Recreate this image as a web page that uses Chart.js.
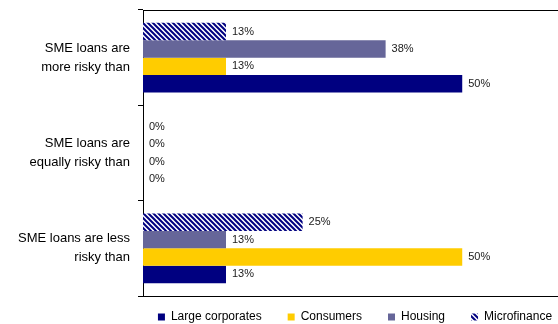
<!DOCTYPE html>
<html>
<head>
<meta charset="utf-8">
<script src="https://cdn.jsdelivr.net/npm/chart.js@4/dist/chart.umd.min.js"></script>
<style>
  html, body { margin: 0; padding: 0; background: #fff; }
  #wrap { width: 558px; height: 324px; }
</style>
</head>
<body>
<div id="wrap"><canvas id="c" width="558" height="324"></canvas></div>
<script>
// Survey answers: how risky SME loans are compared with other lending segments (% of respondents)
const categories = [
  ['SME loans are', 'more risky than'],
  ['SME loans are', 'equally risky than'],
  ['SME loans are less', 'risky than']
];
const seriesNames = ['Microfinance', 'Housing', 'Consumers', 'Large corporates'];
const microfinance    = [13, 0, 25];
const housing         = [38, 0, 13];
const consumers       = [13, 0, 50];
const largeCorporates = [50, 0, 13];
const valueSuffix = '%';

const FONT = "'Liberation Sans', Arial, Helvetica, sans-serif";

// navy diagonal hatch used for the microfinance bars
function hatch(color) {
  const s = 5;
  const c = document.createElement('canvas');
  c.width = s; c.height = s;
  const g = c.getContext('2d');
  g.fillStyle = '#ffffff';
  g.fillRect(0, 0, s, s);
  g.strokeStyle = color;
  g.lineWidth = 2;
  g.beginPath();
  g.moveTo(-1, -1); g.lineTo(s + 1, s + 1);
  g.moveTo(-1, s - 1); g.lineTo(1, s + 1);
  g.moveTo(s - 1, -1); g.lineTo(s + 1, 1);
  g.stroke();
  return g.createPattern(c, 'repeat');
}

const ctx = document.getElementById('c').getContext('2d');

// value text to the right of every bar
const barValues = {
  id: 'barValues',
  afterDatasetsDraw(chart) {
    const g = chart.ctx;
    g.save();
    g.font = '11px ' + FONT;
    g.fillStyle = '#1a1a1a';
    g.textAlign = 'left';
    g.textBaseline = 'middle';
    chart.data.datasets.forEach((ds, di) => {
      const meta = chart.getDatasetMeta(di);
      meta.data.forEach((bar, i) => {
        g.fillText(ds.data[i] + valueSuffix, bar.x + 6, bar.y);
      });
    });
    g.restore();
  }
};

// keep the legend in a thin band under the plot and move it to the right
const LEGEND_BAND = 28;
const LEGEND_SHIFT = 76;
const LEGEND_TOP = 285;
const legendPlacement = {
  id: 'legendPlacement',
  beforeUpdate(chart) {
    const lg = chart.legend;
    if (lg && !lg.__bandFit) {
      const fit = lg.fit;
      lg.fit = function () { fit.call(this); this.height = LEGEND_BAND; };
      lg.__bandFit = true;
    }
  },
  afterLayout(chart) {
    const lg = chart.legend;
    if (!lg) return;
    lg.left = LEGEND_SHIFT;
    lg.right = LEGEND_SHIFT + chart.width;
    lg.top = LEGEND_TOP;
    lg.bottom = chart.height;
  }
};

new Chart(ctx, {
  type: 'bar',
  data: {
    labels: categories,
    datasets: [
      { label: seriesNames[0], data: microfinance,    backgroundColor: hatch('#000080') },
      { label: seriesNames[1], data: housing,         backgroundColor: '#666699' },
      { label: seriesNames[2], data: consumers,       backgroundColor: '#ffcc00' },
      { label: seriesNames[3], data: largeCorporates, backgroundColor: '#000080' }
    ]
  },
  options: {
    indexAxis: 'y',
    responsive: false,
    animation: false,
    devicePixelRatio: 1,
    layout: { padding: 0 },
    datasets: {
      bar: { categoryPercentage: 0.73, barPercentage: 1.0, borderWidth: 0 }
    },
    scales: {
      x: {
        type: 'linear',
        position: 'bottom',
        min: 0,
        max: 65,
        ticks: { display: false },
        grid: { display: false },
        border: { display: true, color: '#000', width: 1 },
        afterFit(scale) { scale.height = 0; }
      },
      xTop: {
        type: 'linear',
        position: 'top',
        min: 0,
        max: 65,
        ticks: { display: false },
        grid: { display: false },
        border: { display: true, color: '#000', width: 1 },
        afterFit(scale) { scale.height = 10; }
      },
      y: {
        type: 'category',
        offset: true,
        ticks: {
          color: '#000',
          padding: 8,
          font: { family: FONT, size: 13, lineHeight: 1.45 }
        },
        grid: {
          display: true,
          offset: true,
          drawOnChartArea: false,
          drawTicks: true,
          tickLength: 5,
          color: '#000'
        },
        border: { display: true, color: '#000', width: 1 },
        afterFit(scale) {
          scale.width = 143;
          scale.paddingTop = 0;
          scale.paddingBottom = 0;
        }
      }
    },
    plugins: {
      legend: {
        position: 'bottom',
        reverse: true,
        labels: {
          boxWidth: 7,
          boxHeight: 7,
          padding: 26,
          color: '#000',
          font: { family: FONT, size: 12 }
        }
      },
      tooltip: { enabled: false },
      title: { display: false }
    }
  },
  plugins: [barValues, legendPlacement]
});
</script>
</body>
</html>
